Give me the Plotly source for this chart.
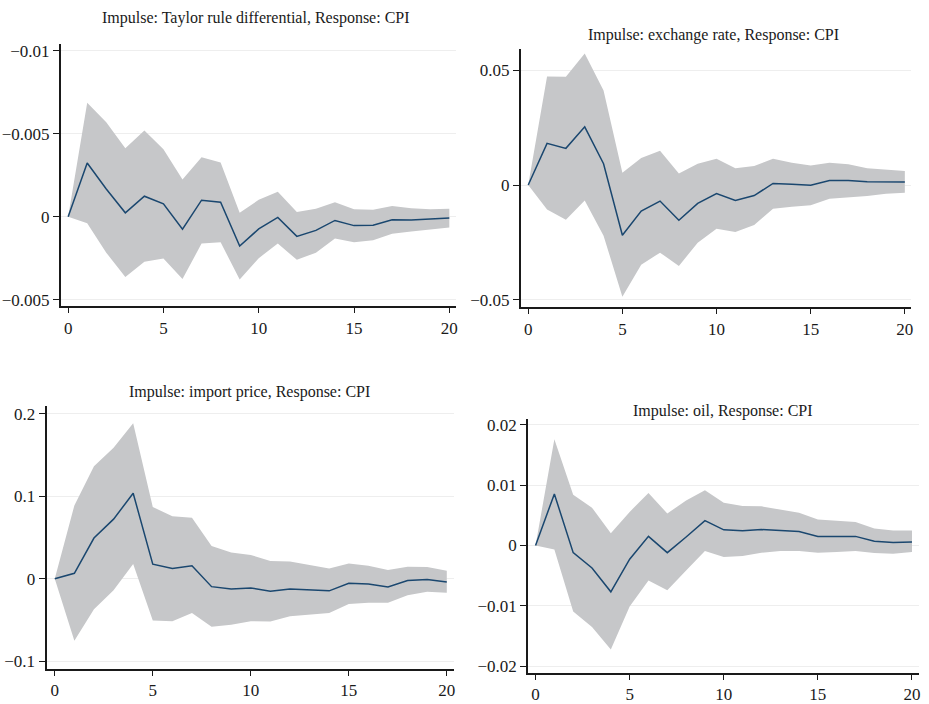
import plotly.graph_objects as go

steps = list(range(21))

# Panel 1: Impulse Taylor rule differential -> CPI
tl_irf = [0, 0.00324, 0.00167, 0.00024, 0.00124, 0.00078, -0.00075, 0.00100, 0.00088, -0.00176,
          -0.00073, -0.00004, -0.00118, -0.00082, -0.00022, -0.00053, -0.00051, -0.00018, -0.00020, -0.00016, -0.00008]
tl_up = [0, 0.00686, 0.00569, 0.00412, 0.00520, 0.00406, 0.00225, 0.00359, 0.00327, 0.00025,
         0.00102, 0.00151, 0.00029, 0.00049, 0.00088, 0.00045, 0.00043, 0.00065, 0.00051, 0.00045, 0.00049]
tl_lo = [0, -0.00039, -0.00216, -0.00363, -0.00270, -0.00251, -0.00375, -0.00161, -0.00153, -0.00378,
         -0.00249, -0.00161, -0.00259, -0.00216, -0.00131, -0.00153, -0.00141, -0.00102, -0.00088, -0.00078, -0.00065]
tl_tickvals = [-0.005, 0, 0.005, 0.01]
tl_ticktext = ["\u22120.005", "0", "\u22120.005", "\u22120.01"]

# Panel 2: Impulse exchange rate -> CPI
tr_irf = [0, 0.0182, 0.0160, 0.0254, 0.0093, -0.0219, -0.0114, -0.0070, -0.0154, -0.0080,
          -0.0037, -0.0067, -0.0046, 0.0007, 0.0003, -0.0001, 0.0020, 0.0020, 0.0014, 0.0014, 0.0013]
tr_up = [0, 0.0474, 0.0473, 0.0574, 0.0413, 0.0054, 0.0118, 0.0150, 0.0050, 0.0093,
         0.0115, 0.0073, 0.0083, 0.0115, 0.0097, 0.0085, 0.0097, 0.0091, 0.0073, 0.0067, 0.0061]
tr_lo = [0, -0.0107, -0.0151, -0.0067, -0.0221, -0.0487, -0.0348, -0.0295, -0.0353, -0.0252,
         -0.0191, -0.0205, -0.0174, -0.0103, -0.0095, -0.0088, -0.0060, -0.0054, -0.0048, -0.0038, -0.0034]
tr_tickvals = [-0.05, 0, 0.05]

# Panel 3: Impulse import price -> CPI
bl_irf = [0, 0.0067, 0.0494, 0.0723, 0.1036, 0.0178, 0.0126, 0.0158, -0.0095, -0.0123,
          -0.0111, -0.0150, -0.0123, -0.0134, -0.0146, -0.0055, -0.0063, -0.0099, -0.0020, -0.0008, -0.0040]
bl_up = [0, 0.0889, 0.1364, 0.1589, 0.1885, 0.0870, 0.0759, 0.0739, 0.0399, 0.0320,
         0.0289, 0.0217, 0.0209, 0.0166, 0.0126, 0.0186, 0.0158, 0.0107, 0.0146, 0.0142, 0.0099]
bl_lo = [0, -0.0751, -0.0368, -0.0138, 0.0178, -0.0506, -0.0514, -0.0415, -0.0581, -0.0557,
         -0.0514, -0.0518, -0.0455, -0.0435, -0.0415, -0.0304, -0.0289, -0.0289, -0.0198, -0.0158, -0.0170]
bl_tickvals = [-0.1, 0, 0.1, 0.2]

# Panel 4: Impulse oil -> CPI
br_irf = [0, 0.00854, -0.00119, -0.00373, -0.00768, -0.00227, 0.00151, -0.00119, 0.00141, 0.00411,
          0.00259, 0.00243, 0.00265, 0.00254, 0.00232, 0.00151, 0.00151, 0.00151, 0.00070, 0.00049, 0.00059]
br_up = [0, 0.01762, 0.00843, 0.00627, 0.00205, 0.00557, 0.00870, 0.00530, 0.00746, 0.00914,
         0.00708, 0.00654, 0.00649, 0.00600, 0.00541, 0.00432, 0.00411, 0.00389, 0.00281, 0.00249, 0.00249]
br_lo = [0, -0.00065, -0.01092, -0.01351, -0.01724, -0.01011, -0.00578, -0.00741, -0.00416, -0.00092,
         -0.00189, -0.00173, -0.00119, -0.00092, -0.00092, -0.00119, -0.00108, -0.00092, -0.00124, -0.00135, -0.00108]
br_tickvals = [-0.02, -0.01, 0, 0.01, 0.02]

titles = ["Impulse: Taylor rule differential, Response: CPI",
          "Impulse: exchange rate, Response: CPI",
          "Impulse: import price, Response: CPI",
          "Impulse: oil, Response: CPI"]
x_ticks = [0, 5, 10, 15, 20]

BAND = "#c6c7c9"
LINE = "#1a476f"
FONT = "Liberation Serif"

panels = [
    dict(irf=tl_irf, up=tl_up, lo=tl_lo, xd=[0.0657, 0.4919], yd=[0.5597, 0.9403],
         xr=[-0.38, 20.35], yr=[-0.00539, 0.01039], tv=tl_tickvals, tt=tl_ticktext,
         title_pos=(0.2766, 0.978)),
    dict(irf=tr_irf, up=tr_up, lo=tr_lo, xd=[0.5619, 0.9828], yd=[0.5582, 0.9337],
         xr=[-0.39, 20.33], yr=[-0.0534, 0.0595], tv=tr_tickvals, tt=None,
         title_pos=(0.7696, 0.954)),
    dict(irf=bl_irf, up=bl_up, lo=bl_lo, xd=[0.0502, 0.4898], yd=[0.0341, 0.4152],
         xr=[-0.42, 20.37], yr=[-0.1087, 0.2095], tv=bl_tickvals, tt=None,
         title_pos=(0.269, 0.435)),
    dict(irf=br_irf, up=br_up, lo=br_lo, xd=[0.5698, 0.9911], yd=[0.0280, 0.3963],
         xr=[-0.39, 20.36], yr=[-0.02108, 0.02097], tv=br_tickvals, tt=None,
         title_pos=(0.780, 0.408)),
]

fig = go.Figure()
annotations = []
for i, p in enumerate(panels):
    n = "" if i == 0 else str(i + 1)
    xa, ya = "x" + n, "y" + n
    fig.add_trace(go.Scatter(x=steps, y=p["up"], mode="lines", line=dict(width=0, color=BAND),
                             xaxis=xa, yaxis=ya, showlegend=False, hoverinfo="skip"))
    fig.add_trace(go.Scatter(x=steps, y=p["lo"], mode="lines", line=dict(width=0, color=BAND),
                             fill="tonexty", fillcolor=BAND,
                             xaxis=xa, yaxis=ya, showlegend=False, hoverinfo="skip"))
    fig.add_trace(go.Scatter(x=steps, y=p["irf"], mode="lines", line=dict(width=1.5, color=LINE),
                             xaxis=xa, yaxis=ya, showlegend=False))
    xkey, ykey = "xaxis" + n, "yaxis" + n
    fig.layout[xkey] = dict(domain=p["xd"], range=p["xr"], anchor=ya, tickvals=x_ticks,
                            showgrid=False, zeroline=False, showline=True, linecolor="#1a1a1a",
                            linewidth=2, ticks="outside", ticklen=5, tickcolor="#1a1a1a",
                            tickfont=dict(family=FONT, size=17, color="#1a1a1a"))
    yax = dict(domain=p["yd"], range=p["yr"], anchor=xa, tickvals=p["tv"],
               showgrid=True, gridcolor="#eeeeee", gridwidth=1, zeroline=False,
               showline=True, linecolor="#1a1a1a", linewidth=2, ticks="outside", ticklen=6,
               tickcolor="#1a1a1a", tickfont=dict(family=FONT, size=17, color="#1a1a1a"))
    if p["tt"] is not None:
        yax["ticktext"] = p["tt"]
    fig.layout[ykey] = yax
    annotations.append(dict(text=titles[i], x=p["title_pos"][0], y=p["title_pos"][1],
                            xref="paper", yref="paper", showarrow=False,
                            xanchor="center", yanchor="middle",
                            font=dict(family=FONT, size=16, color="#1a1a1a")))

fig.update_layout(width=929, height=704, margin=dict(l=0, r=0, t=0, b=0),
                  paper_bgcolor="white", plot_bgcolor="white", annotations=annotations,
                  showlegend=False, font=dict(family=FONT))

fig.write_html("out.html")
